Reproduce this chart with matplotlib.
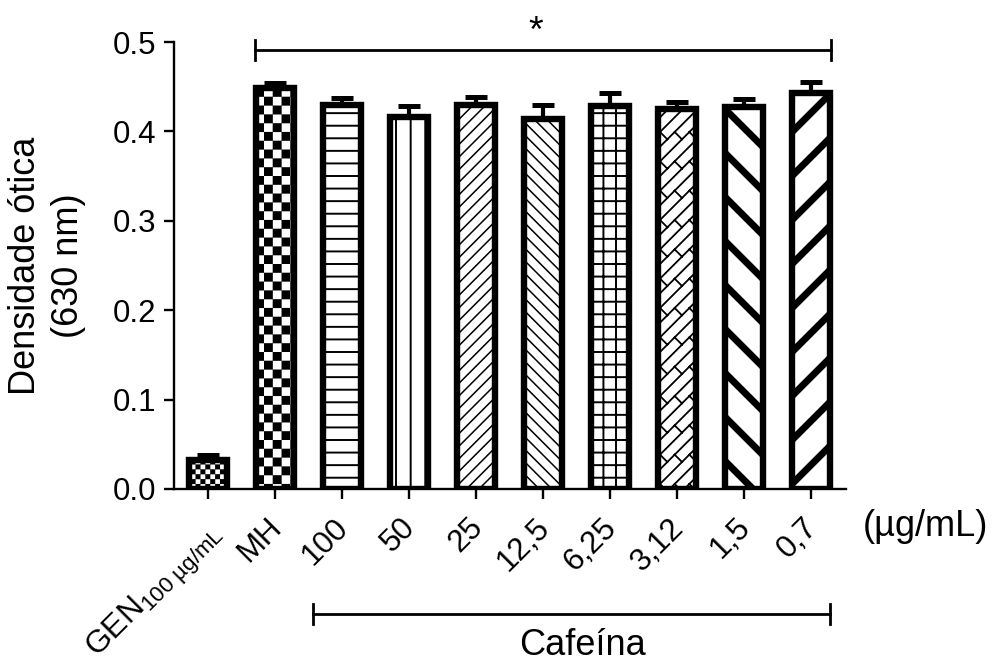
import numpy as np
import matplotlib
matplotlib.use("Agg")
import matplotlib.pyplot as plt
import matplotlib.hatch as mhatch
from matplotlib.path import Path
from matplotlib.lines import Line2D
from matplotlib import transforms

# ---------------- data ----------------
categories = ["GEN$_{100\\ µg/mL}$", "MH", "100", "50", "25", "12,5", "6,25", "3,12", "1,5", "0,7"]
means = [0.032, 0.448, 0.430, 0.416, 0.429, 0.414, 0.428, 0.425, 0.427, 0.443]
errors = [0.006, 0.006, 0.007, 0.012, 0.010, 0.016, 0.015, 0.008, 0.009, 0.012]
yticks = [0.0, 0.1, 0.2, 0.3, 0.4, 0.5]
ytick_labels = ["0.0", "0.1", "0.2", "0.3", "0.4", "0.5"]
ylabel = "Densidade ótica\n(630 nm)"
unit_label = "(µg/mL)"
group_label = "Cafeína"
sig_label = "*"

# hatch codes (custom patterns registered below)
hatches = ["c", "C", "H", "V", "F", "K", "G", "B", "L", "R"]
hatch_lws = [0.1, 0.1, 1.4, 1.4, 1.1, 1.1, 1.4, 1.3, 5.0, 5.0]

# rendering resolution: hatch tile size equals dpi, so dpi sets stripe spacing
DPI = 88
S = 100.0 / DPI  # point sizes below are given as if at 100 dpi


def pt(v):
    return v * S


# ---------------- custom hatch patterns ----------------
def _checker(n):
    segs = []
    for i in range(n):
        for j in range(n):
            if (i + j) % 2 == 0:
                x0, x1, y0, y1 = i / n, (i + 1) / n, j / n, (j + 1) / n
                segs.append([(x0, y0), (x1, y0), (x1, y1), (x0, y1), (x0, y0)])
    return segs


def _hlines(n):
    return [[(0.0, j / n), (1.0, j / n)] for j in range(n + 1)]


def _vlines(n):
    return [[(j / n, 0.0), (j / n, 1.0)] for j in range(n + 1)]


def _fwd(n):
    return [[(0.0, k / n), (1.0, 1.0 + k / n)] for k in range(-n, n + 1)]


def _back(n):
    return [[(0.0, k / n), (1.0, k / n - 1.0)] for k in range(0, 2 * n + 1)]


def _brick(n):
    segs = _fwd(n)
    L = 2.0 / n
    s = 1.0 / (2 * n)
    for k in range(-n - 1, n + 1):
        t0 = 0.0 if k % 2 == 0 else L / 2
        t = t0 - 2.0
        while t < 2.0:
            p0 = (t, t + (k + 1) / n)
            p1 = (t + s, t + (k + 1) / n - s)
            if -0.2 < p0[0] < 1.2 and -0.2 < p0[1] < 1.2:
                segs.append([p0, p1])
            t += L
    return segs


_SPECS = {
    "c": lambda: _checker(18),
    "C": lambda: _checker(10),
    "H": lambda: _hlines(7),
    "V": lambda: _vlines(6),
    "G": lambda: _hlines(7) + _vlines(7),
    "F": lambda: _fwd(7),
    "K": lambda: _back(7),
    "B": lambda: _brick(6),
    "L": lambda: _back(2),
    "R": lambda: _fwd(2),
}


class CustomHatch(mhatch.HatchPatternBase):
    def __init__(self, hatch, density):
        self.segs = []
        for ch, fn in _SPECS.items():
            if ch in hatch:
                self.segs += fn()
        self.num_vertices = sum(len(s) for s in self.segs)

    def set_vertices_and_codes(self, vertices, codes):
        i = 0
        for s in self.segs:
            n = len(s)
            vertices[i:i + n] = s
            codes[i] = Path.MOVETO
            codes[i + 1:i + n] = Path.LINETO
            i += n


mhatch._hatch_types.append(CustomHatch)
mhatch._validate_hatch_pattern = lambda hatch: None

# ---------------- style ----------------
plt.rcParams["font.family"] = ["Liberation Sans", "DejaVu Sans"]
plt.rcParams["mathtext.fontset"] = "custom"
plt.rcParams["mathtext.rm"] = "Liberation Sans"
plt.rcParams["mathtext.it"] = "Liberation Sans"
plt.rcParams["mathtext.default"] = "regular"

W, H = 994, 668
fig = plt.figure(figsize=(W / DPI, H / DPI), dpi=DPI)
ax_l, ax_r, ax_t, ax_b = 174, 846, 42, 489
ax = fig.add_axes([ax_l / W, 1 - ax_b / H, (ax_r - ax_l) / W, (ax_b - ax_t) / H])

x = np.arange(len(categories))

ax.errorbar(x, means, yerr=[np.zeros(len(means)), errors], fmt="none",
            ecolor="black", elinewidth=pt(3.0), capsize=pt(8.2), capthick=pt(3.6), zorder=1)

for i in range(len(categories)):
    with plt.rc_context({"hatch.linewidth": pt(hatch_lws[i]), "hatch.color": "black"}):
        bars = ax.bar(x[i], means[i], width=0.573, color="white", edgecolor="black",
                      linewidth=pt(4.6), hatch=hatches[i], zorder=2)
    for b in bars:
        b.set_joinstyle("miter")
        if hasattr(b, "set_hatch_linewidth"):
            b.set_hatch_linewidth(pt(hatch_lws[i]))

ax.set_xlim(-0.507, 9.52)
ax.set_ylim(0, 0.5)
ax.set_yticks(yticks)
ax.set_yticklabels(ytick_labels)
ax.set_xticks(x)
ax.set_xticklabels(categories, rotation=45, ha="right", va="center",
                   rotation_mode="anchor")

for sp in ["top", "right"]:
    ax.spines[sp].set_visible(False)
for sp in ["left", "bottom"]:
    ax.spines[sp].set_linewidth(pt(1.7))

ax.tick_params(axis="y", labelsize=pt(22.5), width=pt(1.7), length=pt(7.5), pad=pt(5))
ax.tick_params(axis="x", labelsize=pt(22.5), width=pt(1.7), length=pt(7.5), pad=pt(17))

offset = transforms.ScaledTranslation(2 / DPI, 0, fig.dpi_scale_trans)
for k, lab in enumerate(ax.get_xticklabels()):
    if k == 0:
        lab.set_fontsize(pt(23))
        lab.set_transform(lab.get_transform() +
                          transforms.ScaledTranslation(10 / DPI, -6 / DPI, fig.dpi_scale_trans))
    else:
        lab.set_transform(lab.get_transform() + offset)

ax.set_ylabel(ylabel, fontsize=pt(26), linespacing=1.3)
ax.yaxis.set_label_coords((86 - ax_l) / (ax_r - ax_l), 0.5)

# significance bracket
px_per_unit = (ax_b - ax_t) / 0.5
sig_y = 0.491
tick_h = 10 / px_per_unit
ax.plot([0.70, 9.29], [sig_y, sig_y], color="black", lw=pt(2), clip_on=False, zorder=3)
ax.plot([0.70, 0.70], [sig_y - tick_h, sig_y + tick_h], color="black", lw=pt(2), clip_on=False)
ax.plot([9.29, 9.29], [sig_y - tick_h, sig_y + tick_h], color="black", lw=pt(2), clip_on=False)
ax.text(4.89, 0.500, sig_label, fontsize=pt(27), ha="center", va="baseline", clip_on=False)

# group bracket below axis
btr = transforms.blended_transform_factory(ax.transData, fig.transFigure)
gy = 1 - 614 / H
gh = 10 / H
for xs, ys in [([1.56, 9.28], [gy, gy]), ([1.56, 1.56], [gy - gh, gy + gh]),
               ([9.28, 9.28], [gy - gh, gy + gh])]:
    fig.add_artist(Line2D(xs, ys, transform=btr, color="black", lw=pt(2)))
fig.text(5.59, 1 - 655 / H, group_label, transform=btr, fontsize=pt(26),
         ha="center", va="baseline")

fig.text(863 / W, 1 - 536 / H, unit_label, fontsize=pt(26), ha="left", va="baseline")

fig.savefig("out.png", dpi=DPI)
